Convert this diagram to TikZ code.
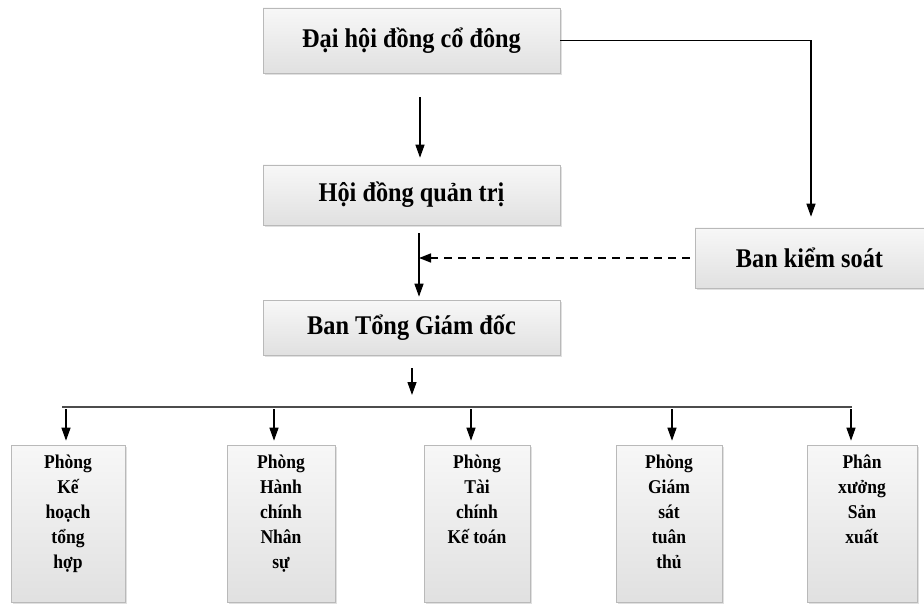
\documentclass[tikz,border=0pt]{standalone}
\usepackage{fontspec}
\setmainfont[FakeStretch=0.9]{Liberation Serif}
\usetikzlibrary{arrows.meta,shadows,calc}
\begin{document}
\begin{tikzpicture}[x=1pt,y=-1pt,
  box/.style={draw=gray!55, line width=0.6pt, top color=gray!6, bottom color=gray!24,
    drop shadow={shadow xshift=1.5pt, shadow yshift=-2pt, fill=gray!40, opacity=0.6},
    inner sep=0pt},
  mainbox/.style={box, font=\bfseries\fontsize{27}{30}\selectfont},
  subbox/.style={box, minimum height=157pt, font=\bfseries\fontsize{19.5}{25}\selectfont},
  arr/.style={line width=1.3pt, -{Triangle[width=9pt,length=13pt]}},
  dline/.style={line width=1.5pt, dash pattern=on 8pt off 6pt}
]
\useasboundingbox (0,0) rectangle (924,604);
\fill[white] (0,0) rectangle (924,604);

\node[mainbox, minimum width=297pt, minimum height=65pt] (dhcd) at (411.5,40.5) {Đại hội đồng cổ đông};
\node[mainbox, minimum width=297pt, minimum height=60pt] (hdqt) at (411.5,195) {Hội đồng quản trị};
\node[mainbox, minimum width=297pt, minimum height=55pt] (btgd) at (411.5,327.5) {Ban Tổng Giám đốc};
\node[mainbox, minimum width=229pt, minimum height=60pt] (bks) at (809.5,258) {Ban kiểm soát};

\newcommand{\subtext}[1]{\parbox[t][138pt][t]{100pt}{\centering #1}}
\node[subbox, minimum width=114pt] (b1) at (68,523.5) {\subtext{Phòng\\Kế\\hoạch\\tổng\\hợp}};
\node[subbox, minimum width=108pt] (b2) at (281,523.5) {\subtext{Phòng\\Hành\\chính\\Nhân\\sự}};
\node[subbox, minimum width=106pt] (b3) at (477,523.5) {\subtext{Phòng\\Tài\\chính\\Kế toán}};
\node[subbox, minimum width=106pt] (b4) at (669,523.5) {\subtext{Phòng\\Giám\\sát\\tuân\\thủ}};
\node[subbox, minimum width=110pt] (b5) at (862,523.5) {\subtext{Phân\\xưởng\\Sản\\xuất}};

% connectors
\draw[arr, shorten >=11pt] (dhcd.east) -| ([xshift=1.5pt]bks.north);
\draw[arr, shorten <=24pt, shorten >=7pt] ([xshift=8.5pt]dhcd.south) -- ([xshift=8.5pt]hdqt.north);
\draw[arr, shorten <=8pt, shorten >=3pt] ([xshift=7.5pt]hdqt.south) -- ([xshift=7.5pt]btgd.north);
\coordinate (dj) at ([xshift=7.5pt]hdqt.south |- bks.west);
\draw[dline, -{Triangle[width=9pt,length=12pt]}, shorten <=5pt] (bks.west) -- (dj);

\coordinate (hl) at (412,407);
\coordinate (hlL) at (62,407);
\coordinate (hlR) at (852,407);
\draw[arr, shorten <=13pt, shorten >=12pt] ([xshift=0.5pt]btgd.south) -- ([xshift=0.5pt]btgd.south |- hl);
\draw[line width=1.8pt, gray!60!black] (hlL) -- (hlR);

\foreach \b/\dx in {b1/-2, b2/-7, b3/-6, b4/3, b5/-11}{
  \draw[arr, shorten <=2pt, shorten >=4pt] ([xshift=\dx pt]\b.north |- hl) -- ([xshift=\dx pt]\b.north);
}
\end{tikzpicture}
\end{document}
